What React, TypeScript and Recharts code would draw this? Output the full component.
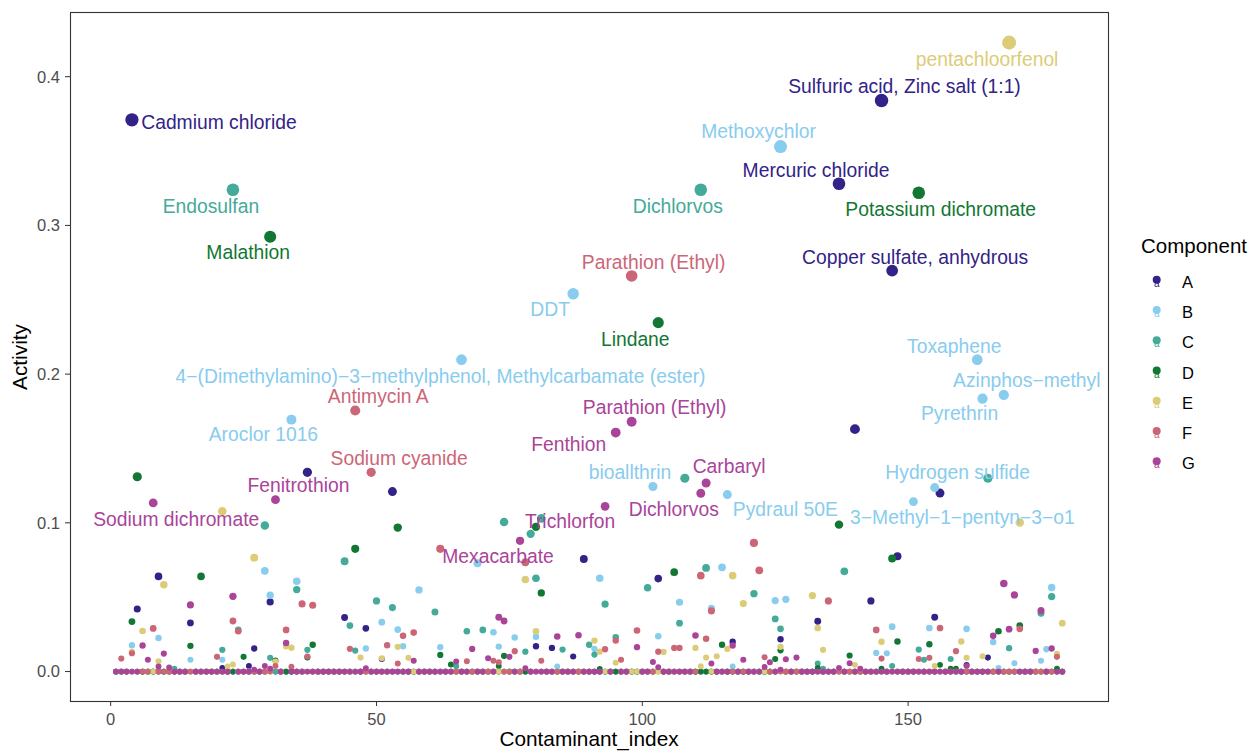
import { ScatterChart, Scatter, XAxis, YAxis } from 'recharts';

// Activity per contaminant index, one sparse list per component: [index, activity].
// Indices not listed have activity 0.
const INDEX_COUNT = 179;
const COMPONENTS = ['A', 'B', 'C', 'D', 'E', 'F', 'G'];
const X_TICKS = [0, 50, 100, 150];
const Y_TICKS = [0, 0.1, 0.2, 0.3, 0.4];

const seriesA: [number, number][] = [
  [4, 0.371], [5, 0.042], [9, 0.064], [15, 0.0327], [21, 0.0025], [26, 0.0038], [27, 0.0155],
  [30, 0.0468], [37, 0.134], [44, 0.0363], [48, 0.0291], [51, 0.0085], [53, 0.121], [80, 0.017],
  [83, 0.0159], [87, 0.0101], [89, 0.0757], [103, 0.0625], [117, 0.02], [126, 0.0217],
  [133, 0.0338], [137, 0.328], [140, 0.163], [143, 0.0475], [145, 0.384], [147, 0.2696],
  [148, 0.0775], [155, 0.0365], [156, 0.12], [161, 0.0045], [165, 0.0094],
];
const seriesB: [number, number][] = [
  [4, 0.0177], [9, 0.0226], [15, 0.0079], [21, 0.0079], [29, 0.0677], [30, 0.0513], [34, 0.1694],
  [35, 0.0607], [48, 0.0155], [51, 0.0332], [54, 0.0282], [55, 0.017], [58, 0.0549], [62, 0.0164],
  [66, 0.2097], [69, 0.0728], [72, 0.0264], [73, 0.0168], [76, 0.0229], [80, 0.0234], [84, 0.0034],
  [87, 0.254], [91, 0.0153], [92, 0.0627], [102, 0.1244], [103, 0.0237], [107, 0.0466],
  [113, 0.0426], [115, 0.0701], [116, 0.119], [117, 0.0034], [125, 0.0477], [126, 0.353],
  [127, 0.0486], [144, 0.0125], [146, 0.0123], [147, 0.0302], [151, 0.1143], [154, 0.0293],
  [155, 0.1237], [161, 0.0287], [163, 0.2097], [164, 0.1835], [166, 0.0199], [167, 0.0025],
  [168, 0.186], [170, 0.0056], [175, 0.0072], [176, 0.015], [177, 0.0565],
];
const seriesC: [number, number][] = [
  [12, 0.002], [21, 0.0146], [23, 0.324], [24, 0.028], [29, 0.0982], [30, 0.0092], [35, 0.0551],
  [37, 0.0146], [44, 0.0742], [45, 0.0309], [46, 0.0141], [50, 0.0475], [53, 0.043], [61, 0.0401],
  [65, 0.0036], [67, 0.0271], [70, 0.028], [74, 0.1006], [78, 0.0134], [79, 0.0926], [80, 0.0627],
  [81, 0.103], [85, 0.0148], [90, 0.018], [91, 0.0114], [93, 0.0453], [95, 0.023], [101, 0.0563],
  [107, 0.0325], [108, 0.13], [111, 0.324], [112, 0.0697], [121, 0.0524], [125, 0.0354],
  [126, 0.0287], [133, 0.0054], [134, 0.002], [138, 0.0674], [147, 0.0038], [152, 0.0148],
  [153, 0.0079], [158, 0.0085], [165, 0.13], [169, 0.0157], [175, 0.0392], [177, 0.0504],
];
const seriesD: [number, number][] = [
  [4, 0.0336], [5, 0.131], [15, 0.0173], [17, 0.064], [25, 0.0099], [30, 0.2924], [31, 0.0074],
  [37, 0.0095], [38, 0.018], [46, 0.0825], [54, 0.0968], [62, 0.0112], [64, 0.0047], [73, 0.0038],
  [74, 0.0105], [80, 0.0973], [81, 0.0529], [92, 0.0017], [103, 0.2346], [106, 0.0668],
  [115, 0.018], [125, 0.0085], [126, 0.0143], [133, 0.0024], [137, 0.0988], [139, 0.0108],
  [145, 0.002], [147, 0.076], [148, 0.0202], [152, 0.322], [154, 0.0184], [156, 0.0045],
  [158, 0.002], [159, 0.002], [167, 0.0271], [171, 0.0309], [178, 0.002],
];
const seriesE: [number, number][] = [
  [4, 0.0132], [6, 0.0273], [9, 0.007], [10, 0.0583], [21, 0.1078], [22, 0.0034], [23, 0.0047],
  [27, 0.0766], [31, 0.0068], [33, 0.017], [34, 0.016], [47, 0.0094], [51, 0.0089], [54, 0.0166],
  [56, 0.0092], [78, 0.0619], [80, 0.0271], [91, 0.0208], [92, 0.0134], [95, 0.006], [104, 0.0132],
  [110, 0.0159], [111, 0.0036], [112, 0.0094], [114, 0.0103], [116, 0.0152], [117, 0.0645],
  [119, 0.0457], [126, 0.0166], [132, 0.0511], [133, 0.0293], [134, 0.0146], [140, 0.0045],
  [145, 0.02], [155, 0.0038], [160, 0.0202], [161, 0.0092], [164, 0.0103], [169, 0.4229],
  [171, 0.1002], [178, 0.0119], [179, 0.0325],
];
const seriesF: [number, number][] = [
  [2, 0.0087], [4, 0.0123], [8, 0.029], [20, 0.0099], [23, 0.034], [24, 0.0271], [31, 0.0038],
  [33, 0.028], [34, 0.0033], [36, 0.0455], [37, 0.0101], [38, 0.0446], [45, 0.0153], [46, 0.1755],
  [49, 0.134], [52, 0.0177], [54, 0.0054], [55, 0.024], [57, 0.0262], [62, 0.0825], [67, 0.0069],
  [72, 0.0072], [73, 0.0063], [76, 0.0137], [78, 0.0735], [81, 0.0072], [93, 0.015], [95, 0.0208],
  [96, 0.008], [98, 0.266], [99, 0.0276], [103, 0.0134], [106, 0.0159], [107, 0.0159],
  [111, 0.0645], [112, 0.022], [113, 0.0408], [121, 0.0865], [122, 0.0681], [123, 0.0096],
  [135, 0.0475], [144, 0.028], [145, 0.0087], [152, 0.0085], [154, 0.0092], [156, 0.0293],
  [159, 0.0137], [171, 0.0287], [178, 0.0099],
];
const seriesG: [number, number][] = [
  [6, 0.0175], [7, 0.008], [8, 0.1134], [9, 0.0034], [10, 0.0121], [11, 0.0027], [15, 0.0448],
  [23, 0.0506], [27, 0.0013], [29, 0.0037], [30, 0.002], [31, 0.1156], [33, 0.0192], [48, 0.0022],
  [57, 0.0072], [65, 0.0067], [68, 0.0152], [71, 0.0089], [73, 0.0365], [74, 0.034], [75, 0.0099],
  [77, 0.0879], [78, 0.0022], [84, 0.0235], [88, 0.0244], [93, 0.1111], [95, 0.1607], [98, 0.168],
  [99, 0.0164], [102, 0.0065], [103, 0.0029], [110, 0.0242], [111, 0.1199], [112, 0.1268],
  [113, 0.0054], [117, 0.0175], [119, 0.008], [123, 0.0031], [124, 0.0063], [126, 0.0013],
  [127, 0.0083], [129, 0.0094], [137, 0.0025], [139, 0.0056], [141, 0.002], [161, 0.0038],
  [166, 0.024], [168, 0.0592], [169, 0.0285], [170, 0.0515], [174, 0.0139], [175, 0.041],
  [177, 0.0155],
];

// Named contaminants shown next to their points
const pointLabels: { comp: string; index: number; text: string }[] = [
  { comp: 'A', index: 4, text: 'Cadmium chloride' },
  { comp: 'C', index: 23, text: 'Endosulfan' },
  { comp: 'D', index: 30, text: 'Malathion' },
  { comp: 'B', index: 34, text: 'Aroclor 1016' },
  { comp: 'F', index: 46, text: 'Antimycin A' },
  { comp: 'B', index: 66, text: '4\u2212(Dimethylamino)\u22123\u2212methylphenol, Methylcarbamate (ester)' },
  { comp: 'B', index: 87, text: 'DDT' },
  { comp: 'F', index: 98, text: 'Parathion (Ethyl)' },
  { comp: 'D', index: 103, text: 'Lindane' },
  { comp: 'C', index: 111, text: 'Dichlorvos' },
  { comp: 'B', index: 126, text: 'Methoxychlor' },
  { comp: 'A', index: 137, text: 'Mercuric chloride' },
  { comp: 'A', index: 145, text: 'Sulfuric acid, Zinc salt (1:1)' },
  { comp: 'E', index: 169, text: 'pentachloorfenol' },
  { comp: 'D', index: 152, text: 'Potassium dichromate' },
  { comp: 'A', index: 147, text: 'Copper sulfate, anhydrous' },
  { comp: 'B', index: 163, text: 'Toxaphene' },
  { comp: 'B', index: 168, text: 'Azinphos\u2212methyl' },
  { comp: 'B', index: 164, text: 'Pyrethrin' },
  { comp: 'G', index: 98, text: 'Parathion (Ethyl)' },
  { comp: 'G', index: 95, text: 'Fenthion' },
  { comp: 'F', index: 49, text: 'Sodium cyanide' },
  { comp: 'G', index: 31, text: 'Fenitrothion' },
  { comp: 'G', index: 8, text: 'Sodium dichromate' },
  { comp: 'B', index: 102, text: 'bioallthrin' },
  { comp: 'G', index: 112, text: 'Carbaryl' },
  { comp: 'G', index: 111, text: 'Dichlorvos' },
  { comp: 'B', index: 116, text: 'Pydraul 50E' },
  { comp: 'G', index: 93, text: 'Trichlorfon' },
  { comp: 'G', index: 77, text: 'Mexacarbate' },
  { comp: 'B', index: 155, text: 'Hydrogen sulfide' },
  { comp: 'B', index: 151, text: '3\u2212Methyl\u22121\u2212pentyn\u22123\u2212o1' },
];

// Repelled label placement: label centre relative to its point, in px
const labelOffsets: Record<string, [number, number]> = {
  A4: [87, 3], C23: [-22, 17], D30: [-22, 16], B34: [-28, 15], F46: [23, -14], B66: [-21, 17],
  B87: [-23, 16], F98: [22, -13], D103: [-23, 17], C111: [-23, 17], B126: [-22, -15],
  A137: [-23, -13], A145: [23, -14], E169: [-22, 17], D152: [22, 17], A147: [23, -13],
  B163: [-23, -13], B168: [23, -14], B164: [-23, 15], G98: [23, -14], G95: [-47, 12],
  F49: [28, -14], G31: [23, -14], G8: [23, 17], B102: [-23, -14], G112: [23, -16],
  G111: [-27, 16], B116: [58, 15], G93: [-35, 15], G77: [-22, 16], B155: [23, -15],
  B151: [49, 16],
};

const COLORS: Record<string, string> = {
  A: '#332288', B: '#88CCEE', C: '#44AA99', D: '#117733',
  E: '#DDCC77', F: '#CC6677', G: '#AA4499',
};

const SPARSE: Record<string, [number, number][]> = {
  A: seriesA, B: seriesB, C: seriesC, D: seriesD, E: seriesE, F: seriesF, G: seriesG,
};

const FONT = '"Liberation Sans", Arial, Helvetica, sans-serif';
const W = 1253;
const H = 751;
const PLOT = { left: 70, top: 12, right: 1108, bottom: 701 };

function fullSeries(points: [number, number][]) {
  const byIndex = new Map(points);
  return Array.from({ length: INDEX_COUNT }, (_, i) => ({ x: i + 1, y: byIndex.get(i + 1) ?? 0 }));
}

// point area grows linearly with activity
function radius(v: number) {
  return Math.sqrt(8.4 + 96.7 * v);
}

const labelData = pointLabels.map((l) => {
  const hit = SPARSE[l.comp].find((p) => p[0] === l.index);
  return { x: l.index, y: hit ? hit[1] : 0, text: l.text, comp: l.comp, key: l.comp + l.index };
});

function dotShape(color: string) {
  return (props: any) => {
    const { cx, cy, payload } = props;
    if (cx == null || cy == null) return <g />;
    return <circle cx={cx} cy={cy} r={radius(payload.y)} fill={color} />;
  };
}

function labelShape(props: any) {
  const { cx, cy, payload } = props;
  if (cx == null || cy == null) return <g />;
  const [dx, dy] = labelOffsets[payload.key] ?? [0, 0];
  return (
    <text
      x={cx + dx}
      y={cy + dy}
      textAnchor="middle"
      dominantBaseline="central"
      fontSize={19.3}
      fontFamily={FONT}
      fill={COLORS[payload.comp]}
    >
      {payload.text}
    </text>
  );
}

const tickStyle = { fill: '#4D4D4D', fontSize: 16.5, fontFamily: FONT };

export default function App() {
  return (
    <div style={{ position: 'absolute', left: 0, top: 0, width: W, height: H, background: '#fff' }}>
      <ScatterChart
        width={W}
        height={H}
        margin={{ top: PLOT.top, left: 10, right: W - PLOT.right, bottom: 0 }}
      >
        <XAxis
          type="number"
          dataKey="x"
          domain={[-7.65, 187.6]}
          ticks={X_TICKS}
          allowDataOverflow
          height={H - PLOT.bottom}
          axisLine={false}
          tickSize={5}
          tickMargin={7}
          tickLine={{ stroke: '#333333' }}
          tick={tickStyle}
          label={{
            value: 'Contaminant_index',
            position: 'insideBottom',
            offset: 5,
            fill: '#000',
            fontSize: 20.8,
            fontFamily: FONT,
          }}
        />
        <YAxis
          type="number"
          dataKey="y"
          domain={[-0.0198, 0.4435]}
          ticks={Y_TICKS}
          allowDataOverflow
          width={60}
          axisLine={false}
          tickSize={5}
          tickMargin={5}
          tickLine={{ stroke: '#333333' }}
          tick={tickStyle}
          tickFormatter={(v: number) => v.toFixed(1)}
        />
        {COMPONENTS.map((c) => (
          <Scatter
            key={c}
            name={c}
            data={fullSeries(SPARSE[c])}
            fill={COLORS[c]}
            shape={dotShape(COLORS[c])}
            isAnimationActive={false}
          />
        ))}
        <Scatter
          name="labels"
          data={labelData}
          shape={labelShape}
          legendType="none"
          isAnimationActive={false}
        />
      </ScatterChart>

      <svg
        width={W}
        height={H}
        style={{ position: 'absolute', left: 0, top: 0, pointerEvents: 'none' }}
      >
        <rect
          x={PLOT.left + 0.5}
          y={PLOT.top + 0.5}
          width={PLOT.right - PLOT.left}
          height={PLOT.bottom - PLOT.top}
          fill="none"
          stroke="#333333"
          strokeWidth={1.1}
        />
        <text
          x={19}
          y={357}
          transform="rotate(-90 19 357)"
          textAnchor="middle"
          dominantBaseline="central"
          fontSize={20.8}
          fontFamily={FONT}
          fill="#000"
        >
          Activity
        </text>
        <text x={1141} y={245} dominantBaseline="central" fontSize={20.5} fontFamily={FONT} fill="#000">
          Component
        </text>
        {COMPONENTS.map((c, i) => {
          const y = 281.7 + i * 30.27;
          return (
            <g key={c}>
              <circle cx={1156.7} cy={y - 2} r={4} fill={COLORS[c]} />
              <text x={1156.7} y={y + 5} textAnchor="middle" fontSize={10} fontFamily={FONT} fill={COLORS[c]}>
                a
              </text>
              <text x={1182} y={y} dominantBaseline="central" fontSize={16.5} fontFamily={FONT} fill="#000">
                {c}
              </text>
            </g>
          );
        })}
      </svg>
    </div>
  );
}
